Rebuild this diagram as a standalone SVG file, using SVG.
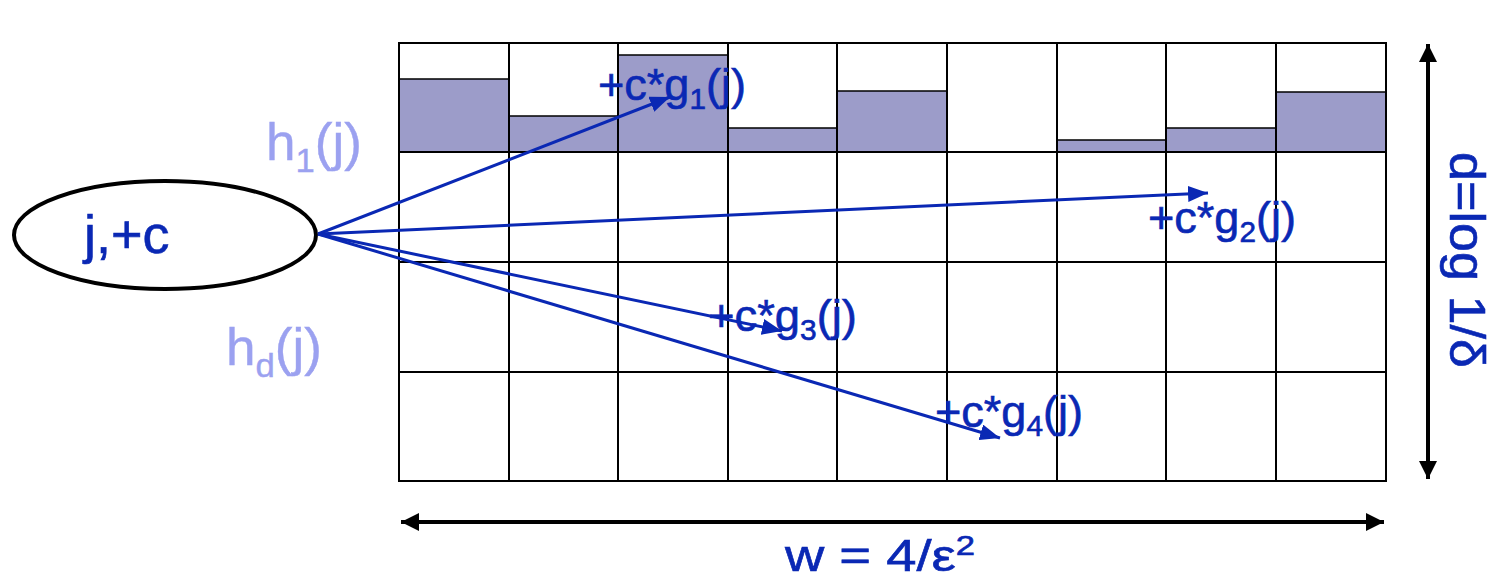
<svg xmlns="http://www.w3.org/2000/svg" width="1500" height="586" viewBox="0 0 1500 586">
<style>
.grid{stroke:#000;stroke-width:2;fill:none}
.bar{fill:#9c9cc9;stroke:#000;stroke-width:1.5}
.lbl{font-family:"Liberation Sans",Arial,sans-serif;fill:#0a28b4;stroke:#0a28b4;stroke-width:0.6}
.hl{font-family:"Liberation Sans",Arial,sans-serif;fill:#9ba1f0;stroke:#9ba1f0;stroke-width:0.4}
.blue{stroke:#0a28b4;stroke-width:3;fill:none}
.blk{stroke:#000;stroke-width:4;fill:none}
</style>
<defs>
<marker id="ab" markerUnits="userSpaceOnUse" markerWidth="22" markerHeight="16" refX="20" refY="8" orient="auto">
<path d="M0,0 L20,8 L0,16 Z" fill="#0a28b4"/>
</marker>
<marker id="ak" markerUnits="userSpaceOnUse" markerWidth="20" markerHeight="18" refX="18" refY="9" orient="auto-start-reverse">
<path d="M0,0 L18,9 L0,18 Z" fill="#000"/>
</marker>
</defs>
<rect width="1500" height="586" fill="#fff"/>
<g id="bars">
<rect class="bar" x="399" y="79" width="110" height="73"/>
<rect class="bar" x="509" y="116" width="109" height="36"/>
<rect class="bar" x="618" y="55" width="110" height="97"/>
<rect class="bar" x="728" y="128" width="109" height="24"/>
<rect class="bar" x="837" y="91" width="110" height="61"/>
<rect class="bar" x="1057" y="140" width="109" height="12"/>
<rect class="bar" x="1166" y="128" width="110" height="24"/>
<rect class="bar" x="1276" y="92" width="110" height="60"/>
</g>
<g id="grid">
<rect class="grid" x="399" y="43" width="987" height="438"/>
<path class="grid" d="M509,43V481M618,43V481M728,43V481M837,43V481M947,43V481M1057,43V481M1166,43V481M1276,43V481M399,152H1386M399,262H1386M399,372H1386"/>
</g>
<g id="node-source">
<ellipse cx="165" cy="235" rx="151" ry="54" fill="#fff" stroke="#000" stroke-width="4"/>
<text class="lbl" x="84" y="253" font-size="54">j,+c</text>
</g>
<g id="connectors">
<line class="blue" x1="318" y1="234" x2="670" y2="97" marker-end="url(#ab)"/>
<line class="blue" x1="318" y1="234" x2="1208" y2="193" marker-end="url(#ab)"/>
<line class="blue" x1="318" y1="234" x2="782" y2="331" marker-end="url(#ab)"/>
<line class="blue" x1="318" y1="234" x2="1000" y2="438" marker-end="url(#ab)"/>
<line class="blk" x1="401" y1="522" x2="1384" y2="522" marker-start="url(#ak)" marker-end="url(#ak)"/>
<line class="blk" x1="1428" y1="44" x2="1428" y2="479" marker-start="url(#ak)" marker-end="url(#ak)"/>
</g>
<g id="labels">
<text class="hl" x="266" y="160" font-size="52" textLength="96" lengthAdjust="spacingAndGlyphs">h<tspan font-size="34" dy="12">1</tspan><tspan dy="-12">(j)</tspan></text>
<text class="hl" x="226" y="365" font-size="52" textLength="96" lengthAdjust="spacingAndGlyphs">h<tspan font-size="34" dy="12">d</tspan><tspan dy="-12">(j)</tspan></text>
<text class="lbl" x="598" y="100" font-size="44" textLength="148" lengthAdjust="spacingAndGlyphs">+c*g<tspan font-size="29" dy="9">1</tspan><tspan dy="-9">(j)</tspan></text>
<text class="lbl" x="1148" y="233" font-size="44" textLength="148" lengthAdjust="spacingAndGlyphs">+c*g<tspan font-size="29" dy="9">2</tspan><tspan dy="-9">(j)</tspan></text>
<text class="lbl" x="708" y="331" font-size="44" textLength="149" lengthAdjust="spacingAndGlyphs">+c*g<tspan font-size="29" dy="9">3</tspan><tspan dy="-9">(j)</tspan></text>
<text class="lbl" x="935" y="427" font-size="44" textLength="148" lengthAdjust="spacingAndGlyphs">+c*g<tspan font-size="29" dy="9">4</tspan><tspan dy="-9">(j)</tspan></text>
<text class="lbl" x="785" y="571" font-size="44" textLength="190" lengthAdjust="spacingAndGlyphs">w = 4/ε<tspan font-size="28" dy="-16">2</tspan></text>
<text class="lbl" transform="translate(1450,152) rotate(90)" x="0" y="0" font-size="50" textLength="216" lengthAdjust="spacingAndGlyphs">d=log 1/δ</text>
</g>
</svg>
